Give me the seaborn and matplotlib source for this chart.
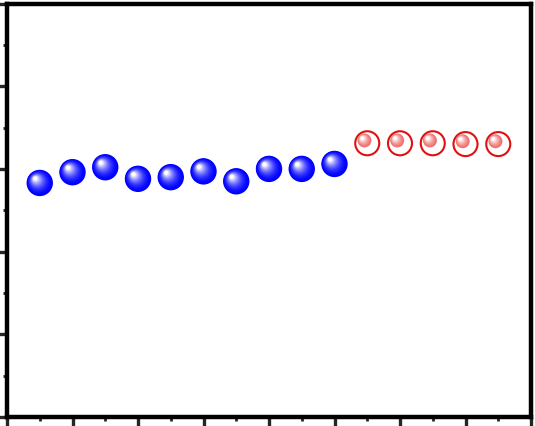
import numpy as np
import pandas as pd
import matplotlib
matplotlib.use("Agg")
import matplotlib.pyplot as plt
import seaborn as sns
from matplotlib.transforms import ScaledTranslation
from matplotlib.colors import to_rgb
from matplotlib.ticker import MultipleLocator

# ---- data ----
x_blue = [1, 2, 3, 4, 5, 6, 7, 8, 9, 10]
y_blue = [2.83, 2.96, 3.02, 2.88, 2.90, 2.97, 2.85, 3.00, 3.00, 3.06]
x_red = [11, 12, 13, 14, 15]
y_red = [3.31, 3.31, 3.31, 3.30, 3.30]

sns.set_style("ticks")
fig = plt.figure(figsize=(5.35, 4.26), dpi=100)
ax = fig.add_axes([7 / 535, 9 / 426, 524 / 535, 413.5 / 426])


def blend(c1, c2, t):
    a = np.array(to_rgb(c1))
    b = np.array(to_rgb(c2))
    return tuple(a + (b - a) * t)


def offset_last(dx_pt, dy_pt):
    coll = ax.collections[-1]
    coll.set_offset_transform(
        ax.transData + ScaledTranslation(dx_pt / 72, dy_pt / 72, fig.dpi_scale_trans))


def sphere(x, y, base, diam, dx=0.0, dy=0.0, n=14, z=3, lo=0.85, pw=1.8):
    sns.scatterplot(x=x, y=y, s=diam ** 2, color=base, edgecolor="none",
                    linewidth=0, ax=ax, legend=False, zorder=z)
    offset_last(dx, dy)
    for i in range(1, n + 1):
        f = i / n
        frac = 1 - lo * f
        col = blend(base, "white", f ** pw)
        hx = dx - 0.17 * diam * f
        hy = dy + 0.17 * diam * f
        sns.scatterplot(x=x, y=y, s=(diam * frac) ** 2, color=col,
                        edgecolor="none", linewidth=0, ax=ax, legend=False,
                        zorder=z + 0.01 * i)
        offset_last(hx, hy)


# blue solid spheres
sphere(x_blue, y_blue, "#0000ff", 19.0)

# red hollow circles with small pink spheres
sns.scatterplot(x=x_red, y=y_red, s=17.3 ** 2, facecolor="none",
                edgecolor="#e01010", linewidth=1.5, ax=ax, legend=False, zorder=3)
sphere(x_red, y_red, "#f07070", 10.0, dx=-2.0, dy=2.0, n=8, z=4, lo=0.75, pw=1.4)

ax.set_xlim(0, 16)
ax.set_ylim(0, 5)
ax.xaxis.set_major_locator(MultipleLocator(2))
ax.xaxis.set_minor_locator(MultipleLocator(1))
ax.yaxis.set_major_locator(MultipleLocator(1))
ax.yaxis.set_minor_locator(MultipleLocator(0.5))
ax.set_xlabel("")
ax.set_ylabel("")
for sp in ax.spines.values():
    sp.set_visible(True)
    sp.set_linewidth(3.2)
    sp.set_color("black")
ax.tick_params(which="major", direction="out", length=7, width=2.4,
               labelleft=False, labelbottom=False, left=True, bottom=True,
               right=False, top=False)
ax.tick_params(which="minor", direction="out", length=3, width=2.0,
               left=True, bottom=True, right=False, top=False)

fig.savefig("out.png", dpi=100)
